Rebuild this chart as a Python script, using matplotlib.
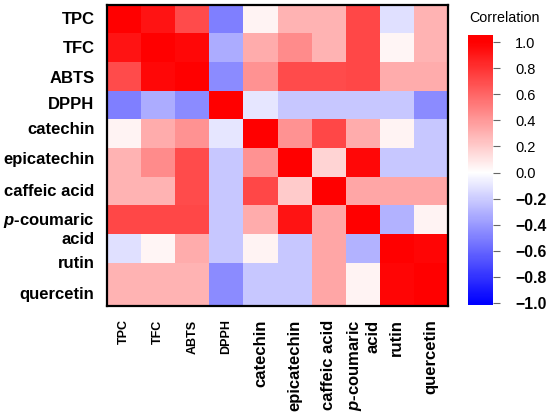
import matplotlib
matplotlib.use('Agg')
import matplotlib.pyplot as plt
import numpy as np
from matplotlib.colors import LinearSegmentedColormap, Normalize

plt.rcParams['font.family'] = ['Liberation Sans', 'DejaVu Sans']
plt.rcParams['mathtext.fontset'] = 'custom'
plt.rcParams['mathtext.it'] = 'Liberation Sans:italic:bold'
plt.rcParams['mathtext.rm'] = 'Liberation Sans:bold'
plt.rcParams['mathtext.bf'] = 'Liberation Sans:bold'
plt.rcParams['axes.unicode_minus'] = True

x_labels = ["TPC", "TFC", "ABTS", "DPPH", "catechin", "epicatechin",
            "caffeic acid", "$p$-coumaric\nacid", "rutin", "quercetin"]
y_labels = ["TPC", "TFC", "ABTS", "DPPH", "catechin", "epicatechin",
            "caffeic acid", "$p$-coumaric", "acid", "rutin", "quercetin"]

corr = [
    [1.00, 0.92, 0.70, -0.50, 0.05, 0.30, 0.30, 0.72, -0.12, 0.30],
    [0.92, 1.00, 0.97, -0.32, 0.32, 0.45, 0.30, 0.72, 0.04, 0.30],
    [0.70, 0.97, 1.00, -0.45, 0.43, 0.70, 0.70, 0.72, 0.32, 0.32],
    [-0.50, -0.32, -0.45, 1.00, -0.10, -0.22, -0.22, -0.22, -0.22, -0.45],
    [0.05, 0.32, 0.43, -0.10, 1.00, 0.43, 0.72, 0.32, 0.05, -0.22],
    [0.30, 0.45, 0.70, -0.22, 0.43, 1.00, 0.17, 0.97, -0.22, -0.22],
    [0.30, 0.30, 0.70, -0.22, 0.72, 0.20, 1.00, 0.35, 0.35, 0.35],
    [0.72, 0.72, 0.72, -0.22, 0.32, 0.92, 0.35, 1.00, -0.30, 0.05],
    [-0.12, 0.04, 0.32, -0.22, 0.05, -0.22, 0.35, -0.30, 1.00, 0.98],
    [0.30, 0.30, 0.30, -0.45, -0.22, -0.22, 0.35, 0.05, 0.98, 1.00],
]
cbar_ticks = [-1.0, -0.8, -0.6, -0.4, -0.2, 0.0, 0.2, 0.4, 0.6, 0.8, 1.0]

# layout
vmin, vmax = -1.015, 1.054
def frac(v):
    return (v - vmin) / (vmax - vmin)
cmap = LinearSegmentedColormap.from_list(
    'corr', [(0.0, (0, 0, 1)), (frac(-1.0), (0, 0, 1)), (frac(0.0), (1, 1, 1)),
             (frac(1.0), (1, 0, 0)), (1.0, (1, 0, 0))])
norm = Normalize(vmin=vmin, vmax=vmax)

W, H = 550, 417
fig = plt.figure(figsize=(W / 100, H / 100), dpi=100)
ax = fig.add_axes([107 / W, 1 - 305.5 / H, 341 / W, 301 / H])

xedges = np.arange(len(x_labels) + 1)
yedges = [0, 1, 2, 3, 4, 5, 6, 7, 8, 9, 10.5]
mesh = ax.pcolormesh(xedges, yedges, np.array(corr), cmap=cmap, norm=norm)
ax.set_xlim(0, 10)
ax.set_ylim(10.5, 0)

ax.set_xticks(np.arange(len(x_labels)) + 0.5)
ax.set_xticklabels(x_labels, rotation=90, va='top', ha='center',
                   multialignment='right')
for i, t in enumerate(ax.get_xticklabels()):
    if i < 4:
        t.set_fontsize(9)
        t.set_fontweight('bold')
    else:
        t.set_fontsize(12)
        t.set_fontweight('bold')

ytick_pos = [0.47, 1.48, 2.53, 3.44, 4.31, 5.35, 6.47, 7.45, 8.14, 8.98, 10.06]
ax.set_yticks(ytick_pos)
ax.set_yticklabels(y_labels, fontsize=12, fontweight='bold')
ax.tick_params(axis='x', length=0, pad=10)
ax.tick_params(axis='y', length=0, pad=9)
for s in ax.spines.values():
    s.set_linewidth(1.6)
    s.set_color('black')

cax = fig.add_axes([468 / W, 1 - 305 / H, 25 / W, 270 / H])
cb = fig.colorbar(mesh, cax=cax, ticks=cbar_ticks)
cb.outline.set_visible(False)
cb.ax.tick_params(length=5, width=0.8, color='#666666', pad=11)
labels = []
for v in cbar_ticks:
    if v < 0:
        labels.append('\u2212' + f'{abs(v):.1f}')
    else:
        labels.append(f'{v:.1f}')
cb.ax.set_yticklabels(labels)
for v, t in zip(cbar_ticks, cb.ax.get_yticklabels()):
    if v < 0:
        t.set_fontweight('bold')
        t.set_fontsize(11.3)
    else:
        t.set_fontsize(10.5)

fig.text(505 / W, 1 - 18 / H, "Correlation", ha='center', va='center', fontsize=10.3)

fig.savefig('out.png', dpi=100)
